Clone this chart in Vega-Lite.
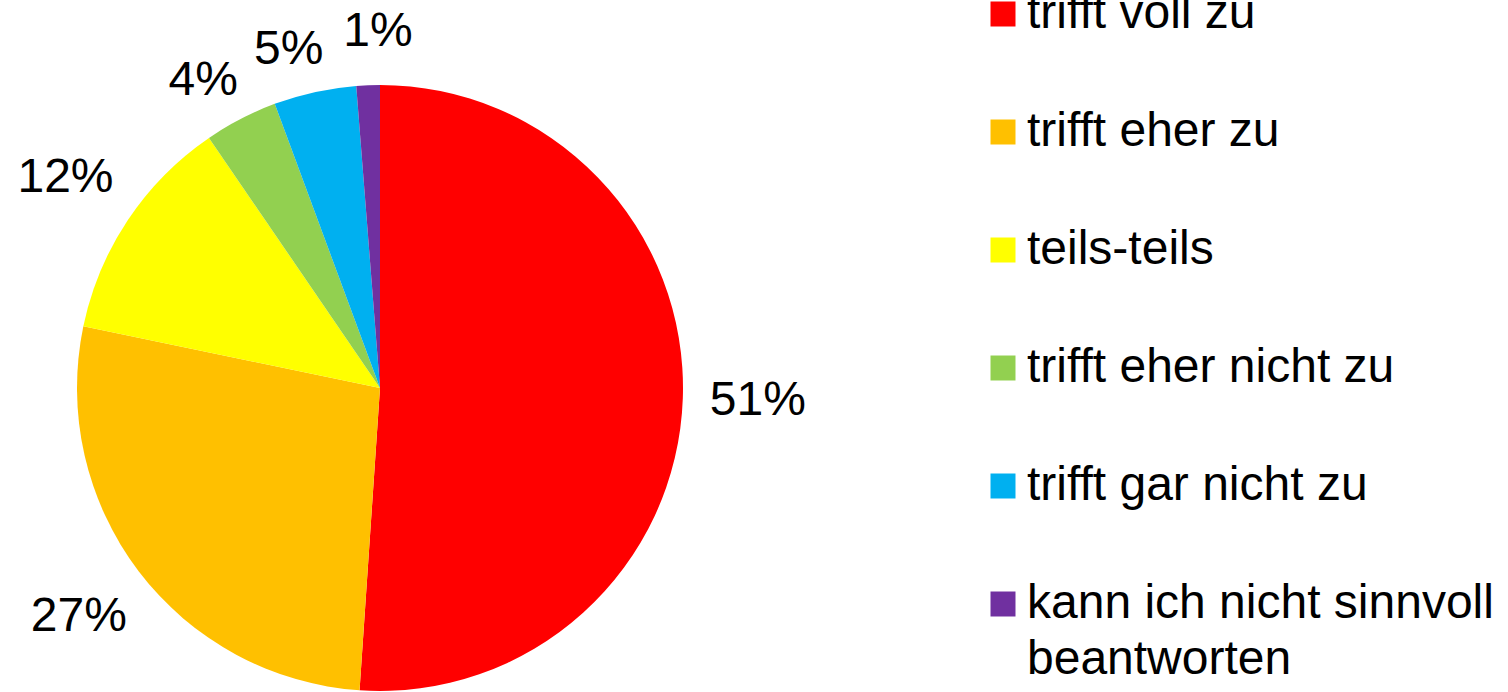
{
  "$schema": "https://vega.github.io/schema/vega-lite/v6.json",
  "width": 760,
  "height": 608,
  "autosize": "none",
  "padding": {"left": 0, "top": 84, "right": 748, "bottom": 0},
  "background": "white",
  "config": {"view": {"stroke": null}, "font": "Liberation Sans"},
  "data": {
    "values": [
      {"idx": 1, "category": "trifft voll zu", "value": 51.1, "label": "51%"},
      {"idx": 2, "category": "trifft eher zu", "value": 27.2, "label": "27%"},
      {"idx": 3, "category": "teils-teils", "value": 12.2, "label": "12%"},
      {"idx": 4, "category": "trifft eher nicht zu", "value": 3.9, "label": "4%"},
      {"idx": 5, "category": "trifft gar nicht zu", "value": 4.4, "label": "5%"},
      {"idx": 6, "category": "kann ich nicht sinnvoll beantworten", "value": 1.25, "label": "1%"}
    ]
  },
  "encoding": {
    "theta": {"field": "value", "type": "quantitative", "stack": true},
    "order": {"field": "idx", "type": "quantitative"}
  },
  "layer": [
    {
      "mark": {"type": "arc", "outerRadius": 303},
      "encoding": {
        "color": {
          "field": "category",
          "type": "nominal",
          "sort": null,
          "scale": {
            "domain": ["trifft voll zu", "trifft eher zu", "teils-teils", "trifft eher nicht zu", "trifft gar nicht zu", "kann ich nicht sinnvoll beantworten"],
            "range": ["#FF0000", "#FFC000", "#FFFF00", "#92D050", "#00B0F0", "#7030A0"]
          },
          "legend": {
            "title": null,
            "orient": "none",
            "legendX": 979,
            "legendY": -94,
            "symbolType": "square",
            "symbolSize": 625,
            "symbolStrokeWidth": 0,
            "labelFontSize": 48,
            "labelColor": "black",
            "labelFont": "Liberation Sans",
            "labelOffset": 0,
            "labelLimit": 700,
            "rowPadding": 70,
            "labelExpr": "datum.label == 'kann ich nicht sinnvoll beantworten' ? ['kann ich nicht sinnvoll', 'beantworten'] : datum.label",
            "encode": {"labels": {"update": {"lineHeight": {"value": 56}}}}
          }
        }
      }
    },
    {
      "mark": {"type": "text", "radius": 378, "fontSize": 48, "color": "black", "font": "Liberation Sans"},
      "encoding": {
        "text": {"condition": {"test": "datum.idx <= 3", "field": "label"}, "value": ""}
      }
    },
    {
      "mark": {"type": "text", "radius": 350, "dx": -16, "dy": 4, "fontSize": 48, "color": "black", "font": "Liberation Sans"},
      "encoding": {
        "text": {"condition": {"test": "datum.idx == 4 || datum.idx == 5", "field": "label"}, "value": ""}
      }
    },
    {
      "mark": {"type": "text", "radius": 356, "dx": 12, "fontSize": 48, "color": "black", "font": "Liberation Sans"},
      "encoding": {
        "text": {"condition": {"test": "datum.idx == 6", "field": "label"}, "value": ""}
      }
    }
  ]
}
